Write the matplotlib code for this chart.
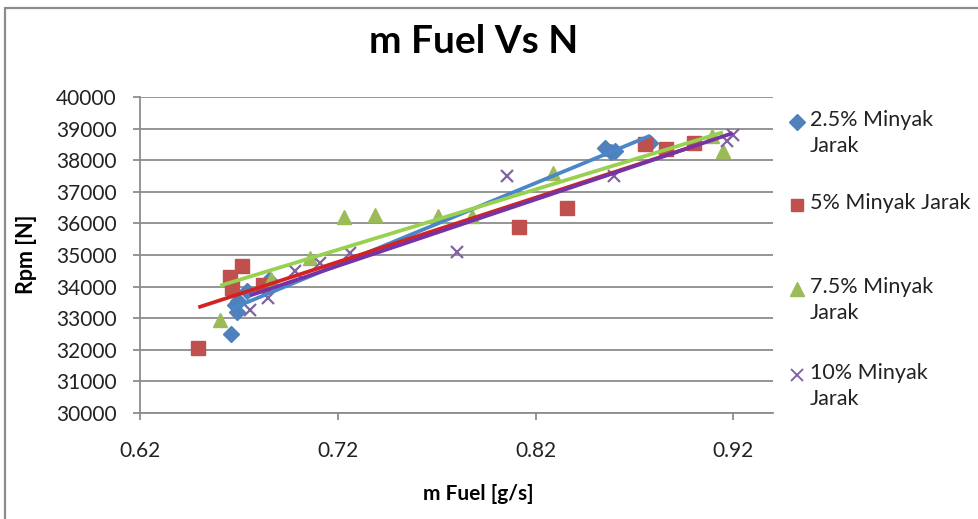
import numpy as np
import matplotlib
matplotlib.use("Agg")
import matplotlib.pyplot as plt
from matplotlib.lines import Line2D
from matplotlib.patches import Rectangle

plt.rcParams['font.family'] = ['Lato', 'DejaVu Sans']

# ---------------- data ----------------
series_labels = ["2.5% Minyak\nJarak", "5% Minyak Jarak", "7.5% Minyak\nJarak", "10% Minyak\nJarak"]

x_25 = [0.666, 0.669, 0.668, 0.6697, 0.674, 0.685, 0.855, 0.858, 0.860, 0.878]
y_25 = [32500, 33200, 33430, 33530, 33850, 34200, 38400, 38250, 38300, 38550]

x_5 = [0.6495, 0.6655, 0.6664, 0.6714, 0.6824, 0.8114, 0.8358, 0.8754, 0.8860, 0.8999]
y_5 = [32050, 34300, 33950, 34650, 34050, 35900, 36500, 38520, 38350, 38550]

x_75 = [0.6605, 0.6860, 0.7060, 0.7232, 0.7389, 0.7706, 0.7878, 0.8290, 0.9092, 0.9147]
y_75 = [32950, 34250, 34900, 36200, 36280, 36220, 36250, 37600, 38750, 38300]

x_10 = [0.6756, 0.6849, 0.6984, 0.7110, 0.7262, 0.7802, 0.8055, 0.8594, 0.9167, 0.9197]
y_10 = [33250, 33650, 34500, 34750, 35050, 35100, 37500, 37500, 38600, 38800]

x_ticks = [0.62, 0.72, 0.82, 0.92]
y_ticks = list(range(30000, 40001, 1000))

# ---------------- style ----------------
marker_colors = ["#4F81BD", "#C0504D", "#9BBB59", "#8064A2"]
line_colors = ["#4A86C8", "#D42222", "#98D050", "#7434A6"]
markers = ["D", "s", "^", "x"]
msizes = [8.5, 10, 10.5, 9]
grid_c = "#8C8C8C"

W, H = 979, 519
fig = plt.figure(figsize=(W / 100, H / 100), dpi=100)
fig.patch.set_facecolor("white")

# chart border (Excel chart area)
fig.add_artist(Rectangle((5 / W, -0.2), 1.2, 1.2 - 8 / H, transform=fig.transFigure,
                         fill=False, edgecolor="#8C8C8C", linewidth=1.6))

ax = fig.add_axes([140 / W, 1 - 413 / H, (773 - 140) / W, (413 - 97) / H])
ax.set_xlim(0.62, 0.94)
ax.set_ylim(30000, 40000)
ax.set_xticks(x_ticks)
ax.set_xticklabels([f"{v:.2f}" for v in x_ticks])
ax.set_yticks(y_ticks)
ax.set_yticklabels([str(v) for v in y_ticks])
ax.yaxis.grid(True, color=grid_c, linewidth=1.3)
ax.set_axisbelow(True)
for s in ["top", "right"]:
    ax.spines[s].set_visible(False)
for s in ["left", "bottom"]:
    ax.spines[s].set_color(grid_c)
    ax.spines[s].set_linewidth(1.3)
ax.tick_params(axis="both", direction="out", length=5, width=1.3, color=grid_c,
               labelsize=15, labelcolor="#222222")
ax.tick_params(axis="y", pad=12)
ax.tick_params(axis="x", pad=15)

xs = [x_25, x_5, x_75, x_10]
ys = [y_25, y_5, y_75, y_10]

for x, y, m, c, ms in zip(xs, ys, markers, marker_colors, msizes):
    if m == "x":
        ax.plot(x, y, ls="none", marker=m, ms=ms, mec=c, mew=1.6, zorder=3, clip_on=False)
    else:
        ax.plot(x, y, ls="none", marker=m, ms=ms, mfc=c, mec=c, zorder=3, clip_on=False)

for x, y, c in zip(xs, ys, line_colors):
    k, b = np.polyfit(x, y, 1)
    xx = np.array([min(x), max(x)])
    ax.plot(xx, k * xx + b, color=c, lw=2.7, solid_capstyle="butt", zorder=4)

# titles
fig.text(474 / W, 1 - 53 / H, "m Fuel Vs N", ha="center", va="baseline",
         fontsize=28, fontweight="bold", color="black")
fig.text(478 / W, 1 - 494 / H, "m Fuel [g/s]", ha="center", va="center",
         fontsize=15, fontweight="bold", color="black")
fig.text(27 / W, 1 - 254 / H, "Rpm [N]", ha="center", va="center", rotation=90,
         fontsize=15.5, fontweight="bold", color="black")

# legend (manual, marker aligned with first text line)
leg_y = [122, 205, 289, 375]
for lab, ly, m, c, ms in zip(series_labels, leg_y, markers, marker_colors, msizes):
    if m == "x":
        fig.add_artist(Line2D([797 / W], [1 - ly / H], transform=fig.transFigure, ls="none",
                              marker=m, ms=ms * 0.9, mec=c, mew=1.4))
    else:
        fig.add_artist(Line2D([797 / W], [1 - ly / H], transform=fig.transFigure, ls="none",
                              marker=m, ms=ms * 0.9, mfc=c, mec=c))
    fig.text(810 / W, 1 - (ly - 12) / H, lab, ha="left", va="top",
             fontsize=15.5, color="#222222", linespacing=1.4)

fig.savefig("out.png", dpi=100, facecolor="white")
